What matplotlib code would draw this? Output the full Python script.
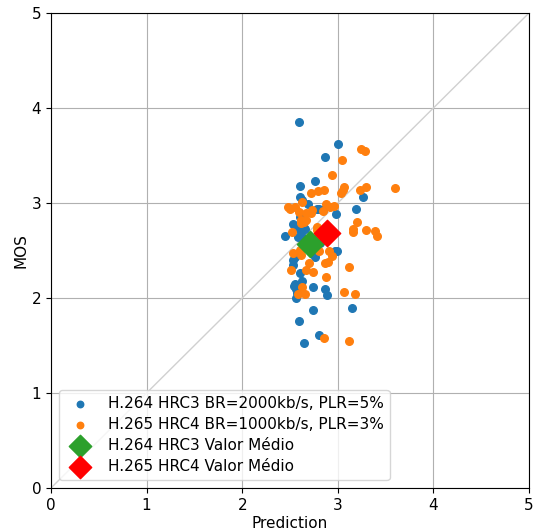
import matplotlib
matplotlib.use("Agg")
import matplotlib.pyplot as plt

# H.264 HRC3 (blue)
h264_pred = [2.59, 3.00, 2.87, 2.60, 2.76, 2.60, 2.63, 2.69, 3.26, 2.78, 3.19, 2.98,
             2.60, 2.53, 2.65, 2.58, 2.45, 2.58, 2.62, 2.81, 2.97, 2.76, 2.55, 2.53,
             2.60, 2.63, 2.55, 2.57, 2.54, 2.74, 2.56, 2.87, 2.89, 2.74, 3.15, 2.59,
             2.80, 2.65, 2.99, 2.53, 2.56, 2.57, 2.80, 2.85, 2.60, 2.66, 2.70]
h264_mos = [3.85, 3.62, 3.48, 3.18, 3.23, 3.06, 3.03, 2.99, 3.06, 2.94, 2.94, 2.88,
            2.85, 2.78, 2.74, 2.74, 2.65, 2.64, 2.66, 2.58, 2.49, 2.43, 2.43, 2.35,
            2.26, 2.18, 2.15, 2.12, 2.13, 2.12, 2.00, 2.09, 2.03, 1.87, 1.89, 1.76,
            1.61, 1.53, 2.49, 2.40, 2.10, 2.05, 2.94, 2.93, 2.73, 2.73, 2.55]

# H.265 HRC4 (orange)
h265_pred = [3.24, 3.28, 3.04, 2.94, 3.07, 3.05, 3.03, 2.86, 2.79, 2.72, 3.23, 3.30,
             2.48, 2.63, 2.88, 2.92, 2.96, 2.85, 2.72, 3.60, 3.20, 3.16, 3.16, 3.30,
             3.39, 3.41, 2.65, 2.61, 2.78, 2.80, 2.91, 2.94, 2.80, 2.53, 2.60, 2.62,
             2.87, 2.90, 2.70, 2.51, 2.67, 2.74, 2.88, 3.12, 2.63, 2.58, 2.66, 3.06,
             3.18, 2.86, 3.12, 2.55, 2.50, 2.59, 2.67, 2.73, 2.62, 2.67, 2.78, 2.52]
h265_mos = [3.57, 3.55, 3.45, 3.29, 3.17, 3.14, 3.11, 3.14, 3.13, 3.11, 3.14, 3.17,
            2.96, 3.01, 2.99, 2.96, 2.97, 2.92, 2.89, 3.16, 2.80, 2.73, 2.69, 2.72,
            2.71, 2.65, 2.80, 2.79, 2.72, 2.66, 2.50, 2.44, 2.49, 2.47, 2.51, 2.45,
            2.37, 2.38, 2.37, 2.29, 2.29, 2.27, 2.22, 2.33, 2.12, 2.04, 2.04, 2.06,
            2.04, 1.58, 1.55, 2.96, 2.94, 2.91, 2.89, 2.93, 2.82, 2.82, 2.75, 2.70]

mean_h264 = (2.71, 2.57)
mean_h265 = (2.89, 2.68)

labels = ["H.264 HRC3 BR=2000kb/s, PLR=5%", "H.265 HRC4 BR=1000kb/s, PLR=3%",
          "H.264 HRC3 Valor Médio", "H.265 HRC4 Valor Médio"]

fs = 11
fig = plt.figure(figsize=(5.37, 5.29), dpi=100)
ax = fig.add_axes([51/537, 1 - 488/529, (529-51)/537, (488-13)/529])
ax.plot([0, 5], [0, 5], color="#d0d0d0", lw=1, zorder=1)
ax.scatter(h264_pred, h264_mos, s=30, color="#1f77b4", label=labels[0], zorder=3)
ax.scatter(h265_pred, h265_mos, s=30, color="#ff7f0e", label=labels[1], zorder=3)
ax.scatter([mean_h264[0]], [mean_h264[1]], s=180, marker="D", color="#2ca02c", label=labels[2], zorder=4)
ax.scatter([mean_h265[0]], [mean_h265[1]], s=180, marker="D", color="#ff0000", label=labels[3], zorder=4)
ax.set_xlim(0, 5)
ax.set_ylim(0, 5)
ax.set_xticks(range(6))
ax.set_yticks(range(6))
ax.grid(True, color="#b0b0b0", lw=0.8, zorder=0)
ax.set_axisbelow(True)
ax.set_xlabel("Prediction", fontsize=fs, labelpad=2)
ax.set_ylabel("MOS", fontsize=fs, labelpad=2)
ax.tick_params(labelsize=fs)
ax.legend(loc="lower left", scatterpoints=1, fontsize=fs, markerscale=0.85,
          labelspacing=0.4)
fig.savefig("out.png", dpi=100)
